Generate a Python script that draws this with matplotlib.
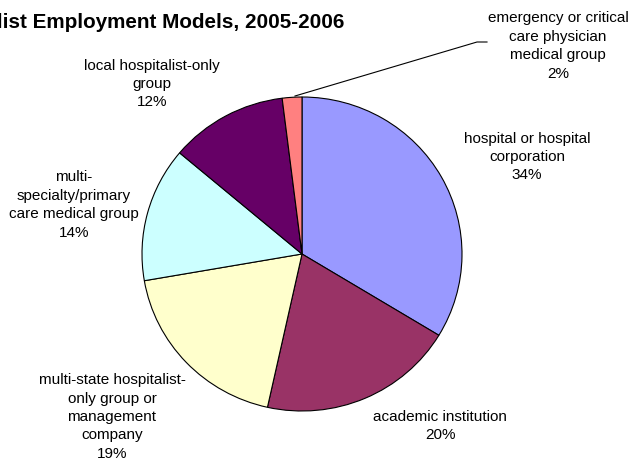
import matplotlib.pyplot as plt
from matplotlib.lines import Line2D

plt.rcParams['font.family'] = ['Liberation Sans', 'DejaVu Sans']

# data
categories = ['hospital or hospital\ncorporation',
              'academic institution',
              'multi-state hospitalist-\nonly group or\nmanagement\ncompany',
              'multi-\nspecialty/primary\ncare medical group',
              'local hospitalist-only\ngroup',
              'emergency or critical\ncare physician\nmedical group']
shares = [34, 20, 19, 14, 12, 2]
colors = ['#9999FF', '#993366', '#FFFFCC', '#CCFFFF', '#660066', '#FF8080']

W, H = 630, 460
fig = plt.figure(figsize=(W / 100, H / 100), dpi=100)
ax = fig.add_axes([0, 0, 1, 1])

ax.pie(shares, colors=colors, startangle=90, counterclock=False,
       wedgeprops=dict(edgecolor='black', linewidth=0.8))

# pie centre / radii in pixels
cx, cy, rx, ry = 302, 255, 160, 157
ax.set_aspect('auto')
ax.set_xlim(-cx / rx, (W - cx) / rx)
ax.set_ylim(-(H - cy) / ry, cy / ry)
ax.axis('off')

# label positions (pixel centres)
label_pos = [(527, 157), (440, 426), (112, 417), (74, 205), (152, 84), (558, 46)]
for name, val, (x, y) in zip(categories, shares, label_pos):
    fig.text(x / W, 1 - y / H, f'{name}\n{val}%', ha='center', va='center',
             fontsize=11, linespacing=1.4)

# leader line for the small slice
line = Line2D([295 / W, 477 / W, 487 / W], [1 - 97 / H, 1 - 43 / H, 1 - 43 / H],
              transform=fig.transFigure, color='black', linewidth=0.8)
fig.add_artist(line)

# title runs off the left edge in the original
fig.text(344 / W, 1 - 28 / H, 'Hospitalist Employment Models, 2005-2006',
         ha='right', va='baseline', fontsize=14.85, fontweight='bold')

fig.savefig('out.png', dpi=100)
